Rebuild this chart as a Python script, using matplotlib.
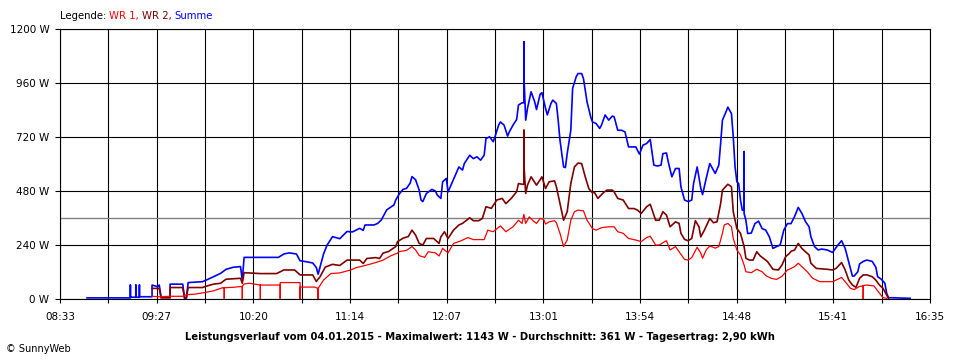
## imports

import matplotlib
matplotlib.use("Agg")
import matplotlib.pyplot as plt

## data (04.01.2015)

# Summe (blue)
summe_time = [
    "08:48", "09:12", "09:12", "09:12", "09:15", "09:15", "09:15", "09:17", "09:17", "09:17",
    "09:24", "09:24", "09:27", "09:28", "09:29", "09:34", "09:34", "09:41", "09:42", "09:43",
    "09:44", "09:52", "09:54", "09:58", "10:02", "10:05", "10:09", "10:13", "10:14", "10:15",
    "10:24", "10:34", "10:37", "10:40", "10:44", "10:46", "10:50", "10:53", "10:55", "10:56",
    "10:57", "10:59", "11:01", "11:04", "11:08", "11:12", "11:15", "11:19", "11:21", "11:22",
    "11:27", "11:29", "11:31", "11:34", "11:38", "11:39", "11:41", "11:43", "11:45", "11:47",
    "11:48", "11:50", "11:52", "11:53", "11:54", "11:56", "11:59", "12:01", "12:02", "12:04",
    "12:05", "12:07", "12:08", "12:10", "12:12", "12:14", "12:16", "12:17", "12:20", "12:22",
    "12:24", "12:26", "12:28", "12:29", "12:31", "12:33", "12:34", "12:36", "12:37", "12:39",
    "12:41", "12:42", "12:44", "12:46", "12:47", "12:49", "12:50", "12:50", "12:50", "12:51",
    "12:52", "12:54", "12:56", "12:57", "12:59", "13:00", "13:02", "13:03", "13:05", "13:06",
    "13:08", "13:09", "13:10", "13:12", "13:13", "13:14", "13:16", "13:17", "13:19", "13:20",
    "13:22", "13:23", "13:25", "13:27", "13:28", "13:30", "13:32", "13:33", "13:35", "13:37",
    "13:39", "13:40", "13:42", "13:44", "13:46", "13:48", "13:52", "13:54", "13:56", "13:58",
    "14:00", "14:02", "14:04", "14:06", "14:07", "14:09", "14:10", "14:12", "14:14", "14:16",
    "14:17", "14:19", "14:21", "14:23", "14:24", "14:26", "14:28", "14:29", "14:31", "14:33",
    "14:35", "14:36", "14:38", "14:39", "14:40", "14:42", "14:43", "14:45", "14:46", "14:47",
    "14:48", "14:49", "14:50", "14:51", "14:52", "14:52", "14:52", "14:53", "14:54", "14:56",
    "14:58", "15:00", "15:02", "15:04", "15:06", "15:08", "15:10", "15:12", "15:14", "15:16",
    "15:18", "15:20", "15:22", "15:24", "15:26", "15:28", "15:29", "15:31", "15:33", "15:35",
    "15:38", "15:41", "15:42", "15:44", "15:46", "15:48", "15:50", "15:52", "15:53", "15:55",
    "15:56", "15:58", "16:00", "16:03", "16:05", "16:06", "16:08", "16:10", "16:11", "16:12",
    "16:24",
]
summe_w = [
    5, 5, 62, 8, 8, 62, 8, 8, 62, 10,
    10, 62, 55, 62, 8, 8, 66, 66, 3, 3,
    73, 77, 84, 99, 114, 132, 141, 144, 84, 185,
    185, 185, 200, 205, 200, 170, 165, 160, 140, 110,
    140, 200, 240, 277, 268, 300, 298, 314, 305, 329,
    329, 336, 351, 396, 418, 440, 467, 487, 492, 515,
    544, 530, 484, 440, 433, 469, 487, 480, 462, 447,
    521, 536, 476, 513, 550, 587, 573, 602, 639, 624,
    632, 617, 639, 713, 721, 699, 721, 773, 787, 773,
    724, 744, 773, 798, 862, 872, 872, 1143, 1000, 795,
    847, 921, 876, 842, 910, 917, 847, 818, 869, 884,
    869, 795, 706, 587, 584, 646, 750, 936, 988, 1002,
    1002, 980, 876, 810, 787, 780, 758, 773, 818, 795,
    813, 810, 750, 750, 743, 676, 676, 644, 684, 691,
    709, 595, 591, 595, 646, 649, 609, 543, 580, 580,
    499, 440, 433, 440, 513, 587, 493, 464, 536, 602,
    573, 558, 595, 691, 795, 832, 853, 824, 721, 587,
    521, 513, 440, 395, 395, 655, 380, 350, 291, 293,
    335, 346, 313, 306, 276, 225, 233, 240, 306, 335,
    335, 367, 407, 381, 344, 321, 277, 233, 218, 222,
    218, 207, 218, 240, 259, 225, 164, 102, 102, 121,
    156, 167, 173, 167, 141, 99, 88, 70, 25, 6,
    3,
]

# WR 2 (dark red)
wr2_time = [
    "09:24", "09:28", "09:29", "09:34", "09:34", "09:41", "09:42", "09:43", "09:44", "09:52",
    "09:54", "09:58", "10:02", "10:05", "10:09", "10:13", "10:14", "10:15", "10:24", "10:33",
    "10:37", "10:43", "10:46", "10:53", "10:55", "10:57", "11:00", "11:04", "11:08", "11:12",
    "11:19", "11:21", "11:23", "11:28", "11:30", "11:32", "11:35", "11:39", "11:40", "11:43",
    "11:46", "11:48", "11:50", "11:52", "11:54", "11:56", "12:00", "12:03", "12:04", "12:06",
    "12:08", "12:11", "12:14", "12:16", "12:20", "12:22", "12:25", "12:27", "12:29", "12:32",
    "12:35", "12:38", "12:40", "12:43", "12:46", "12:47", "12:49", "12:50", "12:50", "12:50",
    "12:51", "12:52", "12:54", "12:57", "12:59", "13:00", "13:02", "13:04", "13:07", "13:08",
    "13:10", "13:12", "13:14", "13:16", "13:18", "13:20", "13:22", "13:24", "13:26", "13:28",
    "13:29", "13:31", "13:34", "13:36", "13:39", "13:40", "13:42", "13:45", "13:48", "13:51",
    "13:53", "13:55", "13:58", "14:00", "14:03", "14:05", "14:07", "14:09", "14:11", "14:14",
    "14:16", "14:17", "14:19", "14:21", "14:23", "14:25", "14:27", "14:28", "14:30", "14:33",
    "14:35", "14:37", "14:39", "14:40", "14:43", "14:45", "14:46", "14:48", "14:50", "14:52",
    "14:53", "14:55", "14:57", "14:59", "15:01", "15:04", "15:05", "15:08", "15:11", "15:13",
    "15:15", "15:17", "15:18", "15:20", "15:22", "15:24", "15:26", "15:28", "15:29", "15:32",
    "15:38", "15:41", "15:43", "15:46", "15:48", "15:50", "15:52", "15:54", "15:56", "15:58",
    "16:00", "16:03", "16:05", "16:07", "16:09", "16:11", "16:12",
]
wr2_w = [
    47, 47, 5, 5, 51, 51, 5, 5, 51, 51,
    57, 66, 70, 88, 90, 92, 70, 117, 113, 113,
    129, 129, 107, 107, 78, 98, 142, 154, 149, 173,
    173, 158, 180, 184, 180, 204, 211, 233, 255, 270,
    278, 306, 284, 247, 240, 269, 269, 247, 276, 299,
    269, 306, 329, 336, 361, 348, 348, 358, 410, 403,
    440, 447, 424, 447, 477, 513, 510, 510, 750, 600,
    469, 506, 543, 506, 530, 543, 491, 521, 525, 499,
    424, 350, 388, 513, 587, 604, 602, 543, 490, 472,
    475, 447, 472, 484, 484, 476, 447, 440, 402, 402,
    395, 380, 410, 421, 350, 350, 388, 373, 321, 343,
    336, 292, 265, 259, 269, 348, 321, 276, 306, 358,
    339, 343, 424, 484, 510, 499, 388, 313, 292, 233,
    181, 173, 173, 210, 191, 173, 166, 132, 129, 151,
    188, 202, 212, 218, 247, 225, 210, 196, 159, 136,
    132, 129, 136, 162, 129, 84, 62, 52, 92, 107,
    107, 99, 84, 62, 47, 18, 3,
]

# WR 1 (red)
wr1_time = [
    "09:24", "09:28", "09:34", "09:41", "09:43", "09:47", "09:52", "09:58", "10:03", "10:04",
    "10:04", "10:04", "10:09", "10:14", "10:14", "10:14", "10:15", "10:18", "10:24", "10:24",
    "10:24", "10:33", "10:35", "10:35", "10:35", "10:45", "10:46", "10:46", "10:46", "10:54",
    "10:56", "10:56", "10:56", "10:59", "11:03", "11:08", "11:14", "11:17", "11:23", "11:28",
    "11:32", "11:36", "11:40", "11:41", "11:45", "11:48", "11:50", "11:52", "11:55", "11:57",
    "12:01", "12:03", "12:05", "12:08", "12:11", "12:15", "12:19", "12:22", "12:28", "12:30",
    "12:33", "12:37", "12:40", "12:44", "12:47", "12:49", "12:50", "12:51", "12:53", "12:55",
    "12:57", "12:59", "13:01", "13:02", "13:04", "13:07", "13:08", "13:10", "13:12", "13:14",
    "13:16", "13:18", "13:20", "13:23", "13:25", "13:28", "13:30", "13:33", "13:37", "13:40",
    "13:42", "13:45", "13:48", "13:52", "13:55", "13:58", "14:00", "14:03", "14:05", "14:08",
    "14:09", "14:11", "14:14", "14:16", "14:19", "14:21", "14:23", "14:26", "14:28", "14:29",
    "14:31", "14:33", "14:36", "14:38", "14:40", "14:41", "14:43", "14:45", "14:46", "14:48",
    "14:50", "14:52", "14:53", "14:56", "14:59", "15:02", "15:04", "15:07", "15:10", "15:13",
    "15:16", "15:17", "15:20", "15:22", "15:24", "15:27", "15:30", "15:34", "15:41", "15:44",
    "15:46", "15:48", "15:51", "15:53", "15:56", "15:58", "15:58", "15:58", "16:00", "16:04",
    "16:06", "16:08", "16:09", "16:11",
]
wr1_w = [
    12, 10, 12, 12, 19, 21, 27, 36, 50, 50,
    0, 50, 52, 56, 0, 56, 67, 70, 62, 0,
    62, 62, 62, 0, 73, 73, 73, 0, 53, 53,
    47, 0, 47, 84, 113, 116, 129, 139, 151, 162,
    173, 191, 204, 211, 216, 233, 218, 193, 185, 210,
    205, 191, 225, 205, 247, 258, 273, 264, 264, 306,
    299, 325, 299, 321, 350, 336, 376, 336, 365, 348,
    336, 358, 353, 333, 343, 348, 339, 292, 233, 262,
    350, 388, 395, 392, 350, 313, 306, 317, 321, 321,
    299, 292, 269, 262, 255, 273, 279, 240, 240, 255,
    259, 218, 233, 210, 176, 173, 184, 230, 204, 181,
    218, 236, 226, 233, 292, 329, 336, 321, 269, 218,
    196, 151, 121, 117, 132, 121, 104, 92, 87, 101,
    129, 132, 144, 159, 144, 121, 92, 77, 77, 88,
    96, 77, 47, 42, 56, 58, 0, 60, 62, 58,
    36, 16, 6, 3,
]

average_w = 361
y_ticks = [0, 240, 480, 720, 960, 1200]
x_labels = ["08:33", "09:27", "10:20", "11:14", "12:07", "13:01", "13:54", "14:48", "15:41", "16:35"]
start_time, end_time = "08:33", "16:35"

legend_parts = ["Legende:", "WR 1,", "WR 2,", "Summe"]
legend_colors = ["black", "#ff0000", "#800000", "#0000ff"]
footer = ("Leistungsverlauf vom 04.01.2015 - Maximalwert: 1143 W - "
          "Durchschnitt: 361 W - Tagesertrag: 2,90 kWh")


def to_min(t):
    h, m = t.split(":")
    return int(h) * 60 + int(m)


## figure

fig = plt.figure(figsize=(9.6, 3.6), dpi=100)
ax = fig.add_axes([60 / 960, 61 / 360, 870 / 960, 270 / 360])

t0, t1 = to_min(start_time), to_min(end_time)
ax.set_xlim(t0, t1)
ax.set_ylim(0, 1200)

# 18 grid intervals, every second one labelled
x_grid = [t0 + k * (t1 - t0) / 18 for k in range(19)]
x_ticklabels = []
for k in range(19):
    x_ticklabels.append(x_labels[k // 2] if k % 2 == 0 else "")

ax.set_xticks(x_grid)
ax.set_xticklabels(x_ticklabels, fontsize=7.5)
ax.set_yticks(y_ticks)
ax.set_yticklabels([f"{v} W" for v in y_ticks], fontsize=7.5)
ax.tick_params(axis="x", length=3, width=0.8, pad=6)
ax.tick_params(axis="y", length=3.6, width=0.8, pad=4)
ax.grid(True, color="black", linewidth=0.8)
ax.set_axisbelow(True)
for sp in ax.spines.values():
    sp.set_linewidth(0.8)

ax.axhline(average_w, color="#808080", linewidth=1.0, zorder=1)

ax.plot([to_min(t) for t in summe_time], summe_w, color="#0000ff", linewidth=1.2, zorder=3)
ax.plot([to_min(t) for t in wr2_time], wr2_w, color="#800000", linewidth=1.2, zorder=4)
ax.plot([to_min(t) for t in wr1_time], wr1_w, color="#ff0000", linewidth=0.9, zorder=5)

## texts

renderer = fig.canvas.get_renderer()
x_px = 60
for part, color in zip(legend_parts, legend_colors):
    txt = fig.text(x_px / 960, 1 - 16 / 360, part, color=color, fontsize=7.3, va="center")
    x_px = txt.get_window_extent(renderer).x1 + 3

fig.text(0.5, 1 - 337 / 360, footer, ha="center", va="center", fontsize=7.2, fontweight="bold")
fig.text(6 / 960, 1 - 349 / 360, "\u00a9 SunnyWeb", ha="left", va="center", fontsize=7)

fig.savefig("out.png", dpi=100)
